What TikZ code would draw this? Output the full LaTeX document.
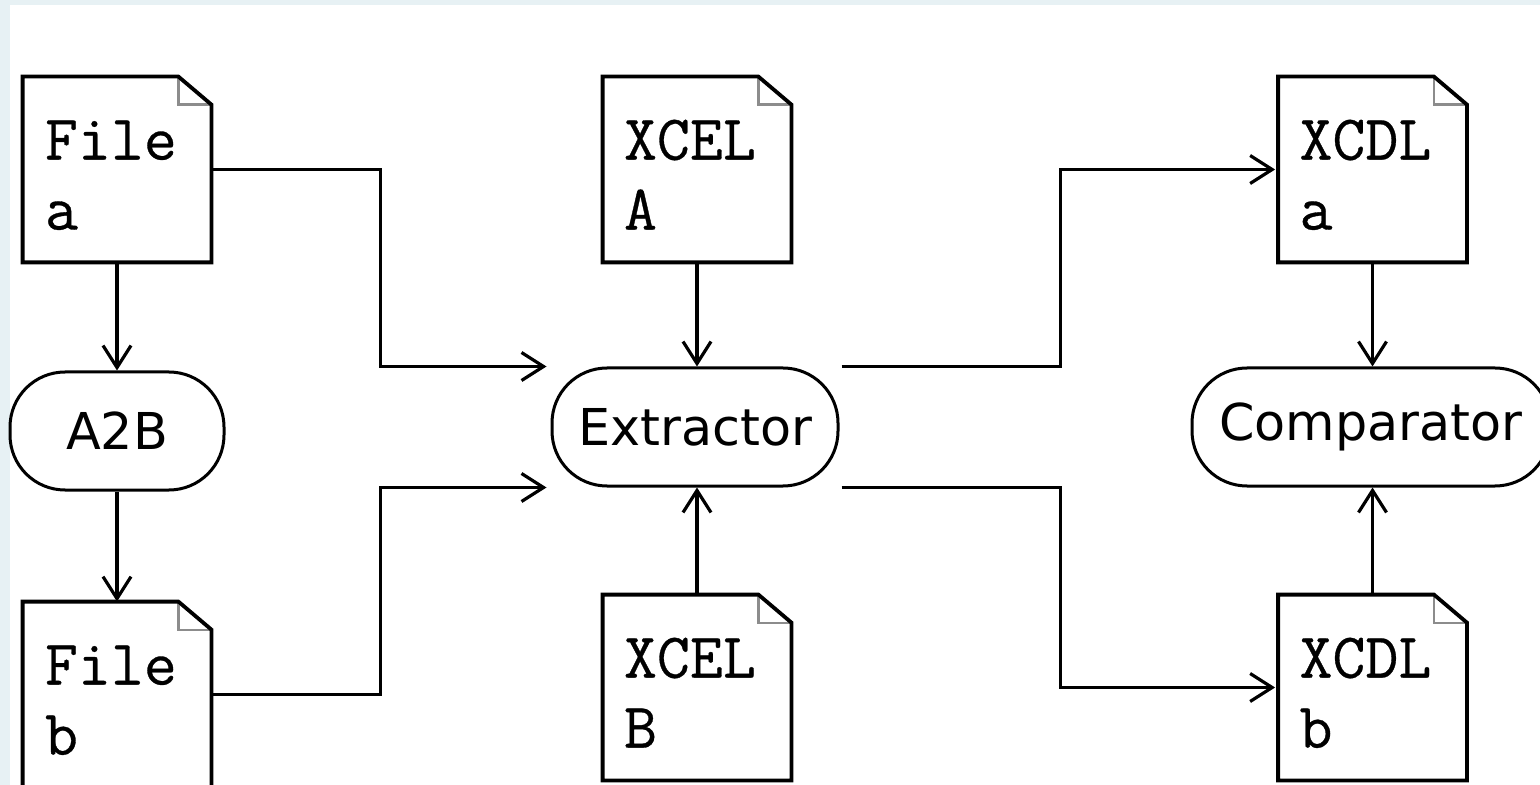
\documentclass[tikz,border=0pt]{standalone}
\usepackage{fontspec}
\setsansfont{DejaVu Sans}
\newfontfamily\docfont{Latin Modern Mono}[FakeBold=0.5]
\usetikzlibrary{arrows.meta,calc}
\definecolor{bgblue}{RGB}{231,241,244}
\definecolor{foldgray}{RGB}{140,140,140}
\begin{document}
\begin{tikzpicture}[x=0.5pt,y=-0.5pt,
  doc/.style={rectangle, minimum width=94pt, minimum height=92.5pt, inner sep=0pt},
  doctext/.style={anchor=base west, inner sep=0pt, font=\docfont\fontsize{32}{36}\selectfont},
  pill/.style={draw, line width=1.5pt, rounded corners=27.5pt, inner sep=0pt, minimum height=59pt, font=\sffamily\fontsize{25.4}{30}\selectfont},
  conn/.style={line width=1.6pt, -{Straight Barb[length=11pt,width=14pt]}},
  docline/.style={line width=1.9pt, line join=miter},
  foldline/.style={foldgray, line width=1.1pt},
]
\useasboundingbox (0,0) rectangle (1540,785);
\fill[bgblue] (0,0) rectangle (1540,785);
\fill[white] (10,5) rectangle (1540,785);

% documents
\node[doc] (fa) at (117,169.5) {};
\node[doc] (fb) at (117,694.5) {};
\node[doc] (xa) at (697,169.5) {};
\node[doc] (xb) at (697,687.5) {};
\node[doc] (ca) at (1372.5,169.5) {};
\node[doc] (cb) at (1372.5,687.5) {};

\foreach \n in {fa,fb,xa,xb,ca,cb}{
  \draw[foldline] ($(\n.north east)+(-33,0)$) -- ($(\n.north east)+(-33,28)$) -- ($(\n.north east)+(0,28)$);
  \draw[docline] (\n.south west) -- (\n.north west) -- ($(\n.north east)+(-33,0)$) -- ($(\n.north east)+(0,28)$) -- (\n.south east) -- cycle;
}

\node[doctext] (fat1) at ($(fa.north west)+(22,83)$) {File};
\node[doctext] (fat2) at ($(fa.north west)+(22,153)$) {a};
\node[doctext] (fbt1) at ($(fb.north west)+(22,83)$) {File};
\node[doctext] (fbt2) at ($(fb.north west)+(22,153)$) {b};
\node[doctext] (xat1) at ($(xa.north west)+(21,83)$) {XCEL};
\node[doctext] (xat2) at ($(xa.north west)+(21,153)$) {A};
\node[doctext] (xbt1) at ($(xb.north west)+(21,83)$) {XCEL};
\node[doctext] (xbt2) at ($(xb.north west)+(21,153)$) {B};
\node[doctext] (cat1) at ($(ca.north west)+(21,83)$) {XCDL};
\node[doctext] (cat2) at ($(ca.north west)+(21,153)$) {a};
\node[doctext] (cbt1) at ($(cb.north west)+(21,83)$) {XCDL};
\node[doctext] (cbt2) at ($(cb.north west)+(21,153)$) {b};

% processes
\node[pill, minimum width=107pt] (a2b) at (117,431) {A2B};
\node[pill, minimum width=143pt] (ext) at (695,427) {Extractor};
\node[pill, minimum width=179pt] (cmp) at (1371,427) {Comparator};

% connectors
\draw[conn] (fa.south) -- (a2b.north);
\draw[conn] (a2b.south) -- (fb.north);
\draw[conn, shorten >=2pt] (fa.east) -- ++(169,0) |- (ext.north west);
\draw[conn, shorten >=2pt] (fb.east) -- ++(169,0) |- (ext.south west);
\draw[conn] (xa.south) -- (xa.south |- ext.north);
\draw[conn] (xb.north) -- (xb.north |- ext.south);
\draw[conn, shorten >=1.5pt] ([xshift=1pt]ext.north east) -- ++(219,0) |- (ca.west);
\draw[conn, shorten >=1.5pt] ([xshift=1pt]ext.south east) -- ++(219,0) |- (cb.west);
\draw[conn] (ca.south) -- (ca.south |- cmp.north);
\draw[conn] (cb.north) -- (cb.north |- cmp.south);
\end{tikzpicture}
\end{document}
